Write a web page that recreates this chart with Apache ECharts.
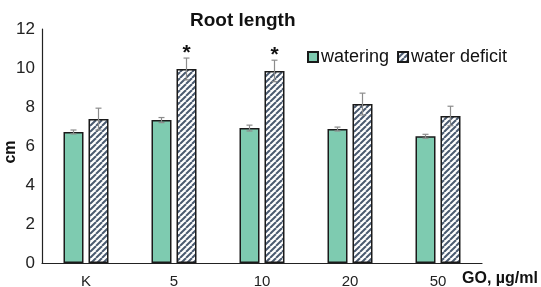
<!DOCTYPE html>
<html>
<head>
<meta charset="utf-8">
<script src="https://cdn.jsdelivr.net/npm/echarts@6/dist/echarts.min.js"></script>
<style>
  html, body { margin: 0; padding: 0; background: #fff; }
  #main { width: 541px; height: 287px; }
</style>
</head>
<body>
<div id="main"></div>
<script>
// data
var cats = ['K', '5', '10', '20', '50'];
var watering = [6.72, 7.33, 6.92, 6.87, 6.5];
var wateringErr = [0.1, 0.13, 0.15, 0.1, 0.1];
var deficit = [7.38, 9.95, 9.85, 8.15, 7.54];
var deficitErr = [0.56, 0.56, 0.55, 0.56, 0.5];
var stars = ['', '*', '*', '', ''];

// hatch pattern for the water deficit bars
function makeHatch() {
    var size = 6;
    var c = document.createElement('canvas');
    c.width = size; c.height = size;
    var ctx = c.getContext('2d');
    ctx.fillStyle = '#fff';
    ctx.fillRect(0, 0, size, size);
    ctx.strokeStyle = '#4a5a70';
    ctx.lineWidth = 2;
    for (var k = -1; k <= 1; k++) {
        ctx.beginPath();
        ctx.moveTo(k * size, size);
        ctx.lineTo(k * size + size, 0);
        ctx.stroke();
    }
    return c;
}
var hatch = makeHatch();

var font = '"Liberation Sans", Arial, sans-serif';

// error bar rows: [catIndex, value, err, offset, star]
var errData = [];
for (var i = 0; i < cats.length; i++) {
    errData.push([i, watering[i], wateringErr[i], -12.5, '']);
    errData.push([i, deficit[i], deficitErr[i], 12.5, stars[i]]);
}

function renderErr(params, api) {
    var idx = api.value(0), v = api.value(1), e = api.value(2), off = api.value(3);
    var star = errData[params.dataIndex][4];
    var top = api.coord([idx, v + e]);
    var bot = api.coord([idx, v - e]);
    var x = top[0] + off;
    var style = { stroke: '#8c8c8c', lineWidth: 1.2 };
    var kids = [
        { type: 'line', shape: { x1: x, y1: top[1], x2: x, y2: bot[1] }, style: style },
        { type: 'line', shape: { x1: x - 3, y1: top[1], x2: x + 3, y2: top[1] }, style: style },
        { type: 'line', shape: { x1: x - 3, y1: bot[1], x2: x + 3, y2: bot[1] }, style: style }
    ];
    if (star) {
        kids.push({
            type: 'text',
            style: { x: x, y: top[1] + 6, text: star, textAlign: 'center', textVerticalAlign: 'bottom',
                fill: '#111', font: 'bold 21px ' + font }
        });
    }
    return { type: 'group', children: kids };
}

var chart = echarts.init(document.getElementById('main'));
chart.setOption({
    animation: false,
    title: {
        text: 'Root length',
        left: 185, top: 6,
        textStyle: { fontFamily: font, fontSize: 19, fontWeight: 'bold', color: '#111' }
    },
    legend: {
        left: 302, top: 43,
        icon: 'rect',
        itemWidth: 10, itemHeight: 10, itemGap: 8,
        textStyle: { fontFamily: font, fontSize: 18, color: '#111', padding: [0, 0, 0, -2] },
        data: ['watering', 'water deficit']
    },
    grid: { left: 42, right: 59, top: 29, bottom: 24, outerBoundsMode: 'none', containLabel: false },
    xAxis: {
        type: 'category',
        data: cats,
        axisLine: { lineStyle: { color: '#222', width: 1.2 } },
        axisTick: { show: false },
        axisLabel: { fontFamily: font, fontSize: 15, color: '#222', margin: 11 },
        name: 'GO, µg/ml',
        nameLocation: 'end',
        nameGap: -20,
        nameMoveOverlap: false,
        nameTextStyle: { fontFamily: font, fontSize: 16, fontWeight: 'bold', color: '#111',
            verticalAlign: 'top', align: 'left', padding: [8, 0, 0, 0] }
    },
    yAxis: {
        type: 'value',
        min: 0, max: 12, interval: 2,
        axisLine: { show: true, lineStyle: { color: '#222', width: 1.2 } },
        axisTick: { show: false },
        splitLine: { show: false },
        axisLabel: { fontFamily: font, fontSize: 17, color: '#222', margin: 7 },
        name: 'cm',
        nameLocation: 'middle',
        nameGap: 23,
        nameMoveOverlap: false,
        nameTextStyle: { fontFamily: font, fontSize: 16, fontWeight: 'bold', color: '#111',
            padding: [0, 12, 0, 0] }
    },
    series: [
        {
            name: 'watering',
            type: 'bar',
            data: watering,
            barWidth: 20,
            barGap: '25%',
            itemStyle: { color: '#7ecbb0', borderColor: '#1a1a1a', borderWidth: 1.5 }
        },
        {
            name: 'water deficit',
            type: 'bar',
            data: deficit,
            barWidth: 20,
            itemStyle: { color: { image: hatch, repeat: 'repeat' }, borderColor: '#1a1a1a', borderWidth: 1.5 }
        },
        {
            type: 'custom',
            renderItem: renderErr,
            data: errData,
            z: 10,
            encode: { x: 0, y: 1 }
        }
    ]
});
</script>
</body>
</html>
